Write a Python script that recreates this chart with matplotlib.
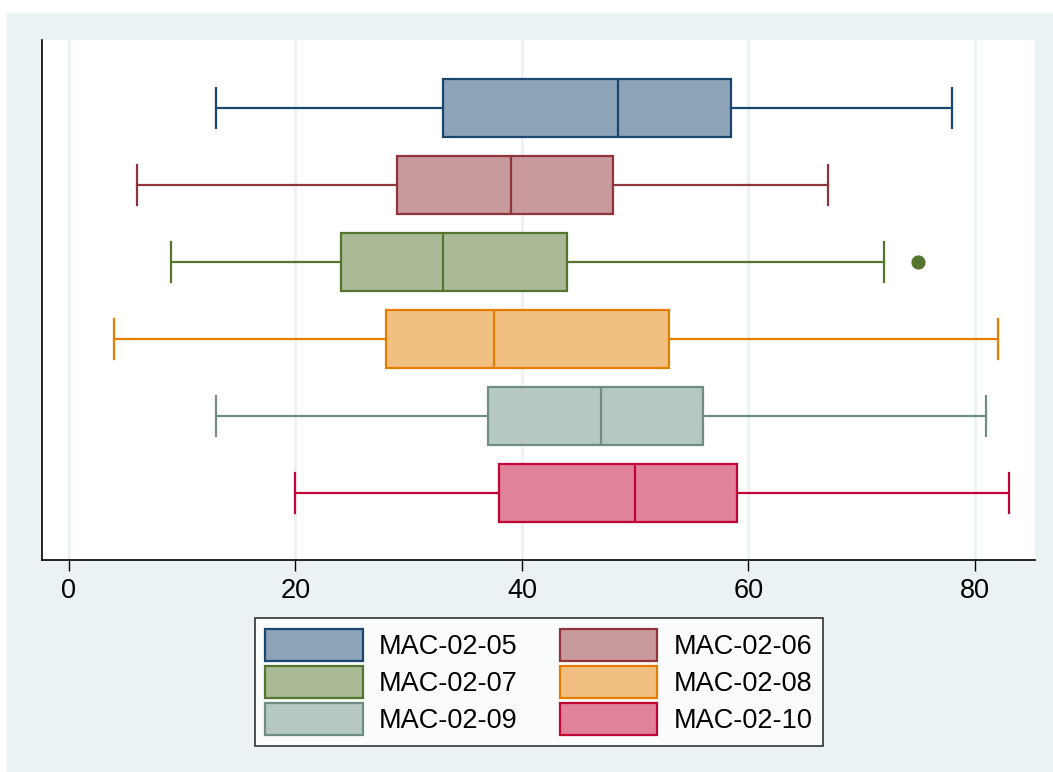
import matplotlib
matplotlib.use("Agg")
import matplotlib.pyplot as plt
import matplotlib.colors as mcolors
from matplotlib.patches import Rectangle

plt.rcParams['font.family'] = ['Liberation Sans', 'DejaVu Sans']

# data
labels = ["MAC-02-05", "MAC-02-06", "MAC-02-07", "MAC-02-08", "MAC-02-09", "MAC-02-10"]
whislo = [13, 6, 9, 4, 13, 20]
q1 = [33, 29, 24, 28, 37, 38]
med = [48.5, 39, 33, 37.5, 47, 50]
q3 = [58.5, 48, 44, 53, 56, 59]
whishi = [78, 67, 72, 82, 81, 83]
outliers = [[], [], [75], [], [], []]
xticks = [0, 20, 40, 60, 80]

line_colors = ["#1A476F", "#90353B", "#55752F", "#E37E00", "#6E8E84", "#C10534"]
bg = "#EAF2F3"


def lighten(c, f=0.5):
    r, g, b = mcolors.to_rgb(c)
    return (r + (1 - r) * f, g + (1 - g) * f, b + (1 - b) * f)


fig = plt.figure(figsize=(10.53, 7.72), dpi=100)
fig.patches.append(Rectangle((7 / 1053, 0), 1, (772 - 13) / 772, transform=fig.transFigure,
                             facecolor=bg, edgecolor='none', zorder=-10))

ax = fig.add_axes([42 / 1053, (772 - 560) / 772, 993 / 1053, 520 / 772])
ax.set_facecolor('white')

n = len(labels)
positions = list(range(n, 0, -1))
handles = []
for i in range(n):
    stats = [dict(whislo=whislo[i], q1=q1[i], med=med[i], q3=q3[i], whishi=whishi[i],
                  fliers=outliers[i])]
    c = line_colors[i]
    bp = ax.bxp(stats, positions=[positions[i]], widths=0.753, capwidths=0.52,
                orientation='horizontal', patch_artist=True, manage_ticks=False,
                boxprops=dict(facecolor=lighten(c), edgecolor=c, linewidth=1.6),
                medianprops=dict(color=c, linewidth=1.6),
                whiskerprops=dict(color=c, linewidth=1.6),
                capprops=dict(color=c, linewidth=1.6),
                flierprops=dict(marker='o', markerfacecolor=c, markeredgecolor=c,
                                markersize=9.2, linestyle='none'))
    handles.append(bp['boxes'][0])

ax.set_xlim(-2.384, 85.30)
ax.set_ylim(0.13, 6.883)
ax.set_xticks(xticks)
ax.set_xticklabels([str(t) for t in xticks])
ax.set_yticks([])
ax.tick_params(axis='x', length=8, width=1, pad=5, labelsize=19.5, colors='black')
ax.xaxis.grid(True, color=bg, linewidth=2)
ax.set_axisbelow(True)
for s in ['top', 'right']:
    ax.spines[s].set_visible(False)
for s in ['left', 'bottom']:
    ax.spines[s].set_color('black')
    ax.spines[s].set_linewidth(1.2)

# legend fills column-first; reorder so rows read 05/06, 07/08, 09/10
order = [0, 2, 4, 1, 3, 5]
leg = fig.legend(handles=[handles[k] for k in order], labels=[labels[k] for k in order],
                 ncol=2, loc='center',
                 bbox_to_anchor=(539 / 1053, (772 - 682) / 772), fontsize=19.5,
                 frameon=True, fancybox=False, handlelength=3.6, handleheight=1.42,
                 labelspacing=0.2, handletextpad=0.6, columnspacing=1.55, borderpad=0.4)
leg.get_frame().set_edgecolor('black')
leg.get_frame().set_linewidth(1.2)
leg.get_frame().set_facecolor('white')

fig.savefig("out.png", dpi=100, facecolor='white')
